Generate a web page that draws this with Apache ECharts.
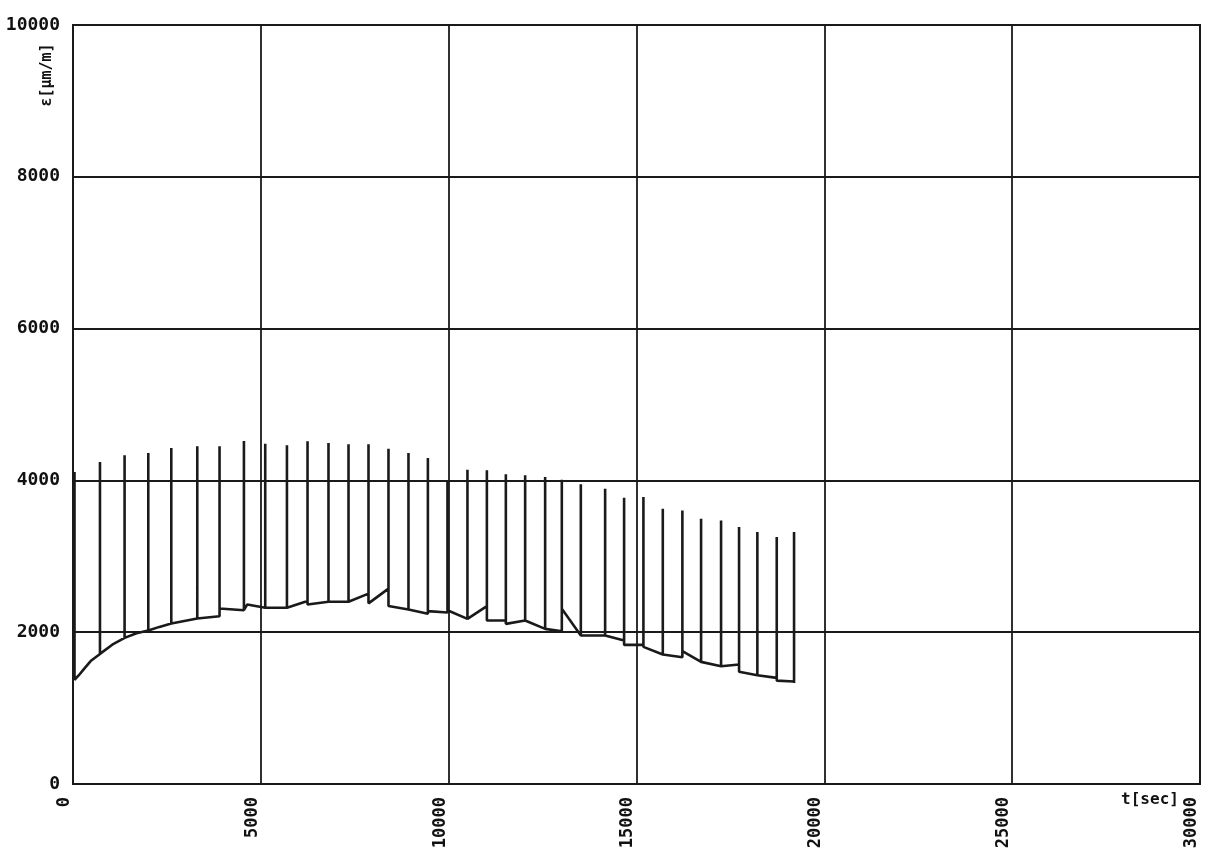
<!DOCTYPE html>
<html>
<head>
<meta charset="utf-8">
<script src="https://cdn.jsdelivr.net/npm/echarts@6/dist/echarts.min.js"></script>
<style>
html,body{margin:0;padding:0;background:#fff;}
#c{width:1207px;height:851px;}
</style>
</head>
<body>
<div id="c"></div>
<script>
// Spike events: time [sec], strain before spike, spike peak, strain after spike
const spikeTimes = [40, 718, 1373, 2004, 2616, 3308, 3901, 4550, 5117, 5695, 6243, 6801, 7334, 7866, 8398, 8930, 9447, 9968, 10500, 11017, 11522, 12036, 12568, 13012, 13518, 14165, 14670, 15184, 15700, 16221, 16719, 17251, 17730, 18217, 18733, 19194];
const spikePre  = [1373, 1714, 1925, 2022, 2114, 2181, 2211, 2290, 2322, 2322, 2410, 2402, 2402, 2508, 2574, 2300, 2243, 2260, 2175, 2343, 2154, 2154, 2044, 2013, 1956, 1956, 1890, 1833, 1706, 1670, 1609, 1552, 1574, 1433, 1398, 1351];
const spikePeak = [4110, 4241, 4330, 4361, 4427, 4449, 4449, 4520, 4484, 4462, 4515, 4494, 4475, 4475, 4418, 4361, 4295, 3990, 4141, 4133, 4080, 4067, 4045, 4010, 3950, 3890, 3770, 3780, 3628, 3605, 3496, 3473, 3385, 3319, 3253, 3319];
const spikePost = [1373, 1714, 1925, 2022, 2114, 2181, 2313, 2290, 2322, 2322, 2366, 2402, 2402, 2380, 2344, 2300, 2278, 2290, 2175, 2154, 2110, 2154, 2044, 2308, 1956, 1956, 1833, 1807, 1706, 1750, 1609, 1552, 1478, 1433, 1362, 1330];
// Intermediate baseline points between spikes
const knotTimes  = [150, 300, 470, 1045, 1690, 2300, 4640];
const knotValues = [1430, 1520, 1620, 1835, 1985, 2070, 2366];
// Axis ticks
const xTicks = [0, 5000, 10000, 15000, 20000, 25000, 30000];
const yTicks = [0, 2000, 4000, 6000, 8000, 10000];
const xName = 't[sec]';
const yName = 'ε[μm/m]';

const events = [];
spikeTimes.forEach((t, i) => {
  events.push({t: t, pts: [[t, spikePre[i]], [t, spikePeak[i]], [t, spikePost[i]]]});
});
knotTimes.forEach((t, i) => {
  events.push({t: t, pts: [[t, knotValues[i]]]});
});
events.sort((a, b) => a.t - b.t);
const lineData = [];
events.forEach(e => e.pts.forEach(p => lineData.push(p)));

const FONT = '"DejaVu Sans Mono", monospace';
const chart = echarts.init(document.getElementById('c'), null, {renderer: 'canvas'});
chart.setOption({
  animation: false,
  backgroundColor: '#ffffff',
  grid: {left: 73, right: 7, top: 25, bottom: 67, show: true, borderColor: '#1a1a1a', borderWidth: 2, containLabel: false, outerBoundsMode: 'none'},
  xAxis: {
    type: 'value',
    min: xTicks[0], max: xTicks[xTicks.length - 1], interval: xTicks[1] - xTicks[0],
    axisLine: {show: true, lineStyle: {color: '#1a1a1a', width: 2}},
    axisTick: {show: false},
    splitLine: {show: true, lineStyle: {color: '#1a1a1a', width: 1.8}},
    axisLabel: {rotate: 90, margin: 13, color: '#111', fontFamily: FONT, fontWeight: 'bold', fontSize: 17, verticalAlign: 'bottom', formatter: v => String(v)}
  },
  yAxis: {
    type: 'value',
    min: yTicks[0], max: yTicks[yTicks.length - 1], interval: yTicks[1] - yTicks[0],
    axisLine: {show: true, lineStyle: {color: '#1a1a1a', width: 2}},
    axisTick: {show: false},
    splitLine: {show: true, lineStyle: {color: '#1a1a1a', width: 1.8}},
    axisLabel: {margin: 13, color: '#111', fontFamily: FONT, fontWeight: 'bold', fontSize: 18, formatter: v => String(v)}
  },
  graphic: [
    {type: 'text', x: 47, y: 75, rotation: Math.PI / 2,
     style: {text: yName, fill: '#111', font: 'bold 15px ' + FONT, textAlign: 'center', textVerticalAlign: 'middle'}},
    {type: 'text', x: 1150, y: 800,
     style: {text: xName, fill: '#111', font: 'bold 16px ' + FONT, textAlign: 'center', textVerticalAlign: 'middle'}}
  ],
  series: [{
    type: 'line',
    data: lineData,
    showSymbol: false,
    symbol: 'none',
    lineStyle: {color: '#1a1a1a', width: 2.6},
    z: 5
  }]
});
</script>
</body>
</html>
